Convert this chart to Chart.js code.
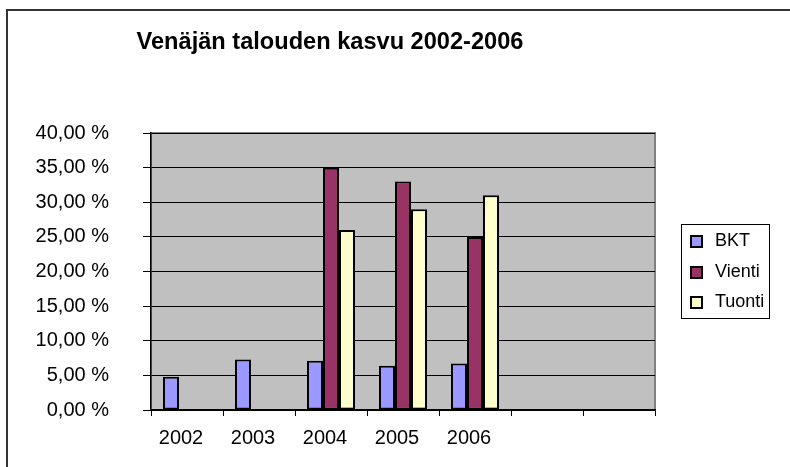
<!DOCTYPE html>
<html lang="fi">
<head>
<meta charset="utf-8">
<title>Venäjän talouden kasvu 2002-2006</title>
<script src="https://cdn.jsdelivr.net/npm/chart.js@4.4.1/dist/chart.umd.min.js"></script>
<style>
    html, body { margin: 0; padding: 0; background: #fff; }
    #wrap { width: 790px; height: 467px; }
</style>
</head>
<body>
<div id="wrap"><canvas id="growthChart" width="790" height="467"></canvas></div>
<script>
// Chart data
const chartTitle = 'Venäjän talouden kasvu 2002-2006';
const years = ['2002', '2003', '2004', '2005', '2006', '', ''];
const seriesNames = ['BKT', 'Vienti', 'Tuonti'];
const bktValues = [4.8, 7.3, 7.1, 6.4, 6.7, null, null];
const vientiValues = [null, null, 35.0, 33.0, 25.0, null, null];
const tuontiValues = [null, null, 26.0, 29.0, 31.0, null, null];
const yMin = 0;
const yMax = 40;
const yStep = 5;

const FONT = '"Liberation Sans", Arial, sans-serif';
const colors = ['#9999FF', '#993366', '#FFFFCC'];

function formatPercent(value) {
    return value.toFixed(2).replace('.', ',') + ' %';
}

// Excel-like frame, grey plot area, title and boxed legend
const excelLook = {
    id: 'excelLook',
    beforeDraw(chart) {
        const { ctx, chartArea } = chart;
        ctx.save();
        ctx.fillStyle = '#C0C0C0';
        ctx.fillRect(chartArea.left, chartArea.top,
            chartArea.right - chartArea.left, chartArea.bottom - chartArea.top);
        ctx.strokeStyle = '#808080';
        ctx.lineWidth = 2;
        ctx.strokeRect(chartArea.left, chartArea.top,
            chartArea.right - chartArea.left, chartArea.bottom - chartArea.top);
        ctx.restore();
    },
    afterDraw(chart) {
        const { ctx } = chart;
        ctx.save();

        // outer frame (left and top edges only are visible)
        ctx.strokeStyle = '#333';
        ctx.lineWidth = 2;
        ctx.beginPath();
        ctx.moveTo(7, 467);
        ctx.lineTo(7, 10);
        ctx.lineTo(790, 10);
        ctx.stroke();

        // title
        ctx.fillStyle = '#000';
        ctx.font = 'bold 23.6px ' + FONT;
        ctx.textAlign = 'center';
        ctx.textBaseline = 'middle';
        ctx.fillText(chartTitle, 330, 42);

        // legend
        ctx.strokeStyle = '#000';
        ctx.lineWidth = 1;
        ctx.strokeRect(681.5, 224.5, 88, 94);
        ctx.font = '18px ' + FONT;
        ctx.textAlign = 'left';
        const rowY = [241, 272, 302];
        chart.data.datasets.forEach((ds, i) => {
            const y = rowY[i];
            ctx.fillStyle = ds.backgroundColor;
            ctx.fillRect(691, y - 5, 11, 11);
            ctx.lineWidth = 2;
            ctx.strokeRect(691, y - 5, 11, 11);
            ctx.fillStyle = '#000';
            ctx.fillText(ds.label, 715, y);
        });
        ctx.restore();
    }
};

const datasets = [bktValues, vientiValues, tuontiValues].map((values, i) => ({
    label: seriesNames[i],
    data: values,
    backgroundColor: colors[i],
    borderColor: '#000',
    borderWidth: 2,
    borderSkipped: false,
    categoryPercentage: 0.6667,
    barPercentage: 1
}));

new Chart(document.getElementById('growthChart'), {
    type: 'bar',
    data: { labels: years, datasets: datasets },
    plugins: [excelLook],
    options: {
        responsive: false,
        animation: false,
        layout: { padding: { top: 133, right: 135, left: 0, bottom: 0 } },
        plugins: {
            legend: { display: false },
            title: { display: false },
            tooltip: { enabled: false }
        },
        scales: {
            x: {
                afterFit: (scale) => { scale.height = 57; },
                grid: {
                    drawOnChartArea: false,
                    drawTicks: true,
                    tickLength: 6,
                    color: '#000',
                    lineWidth: 1
                },
                border: { display: true, color: '#000', width: 1.5 },
                ticks: {
                    color: '#000',
                    font: { family: FONT, size: 20 },
                    padding: 10,
                    labelOffset: -6,
                    maxRotation: 0,
                    autoSkip: false
                }
            },
            y: {
                min: yMin,
                max: yMax,
                afterFit: (scale) => { scale.width = 151; },
                grid: {
                    color: '#000',
                    lineWidth: 1,
                    tickLength: 8
                },
                border: { display: true, color: '#000', width: 1.5 },
                ticks: {
                    stepSize: yStep,
                    color: '#000',
                    font: { family: FONT, size: 20 },
                    padding: 34,
                    callback: (value) => formatPercent(value)
                }
            }
        }
    }
});
</script>
</body>
</html>
